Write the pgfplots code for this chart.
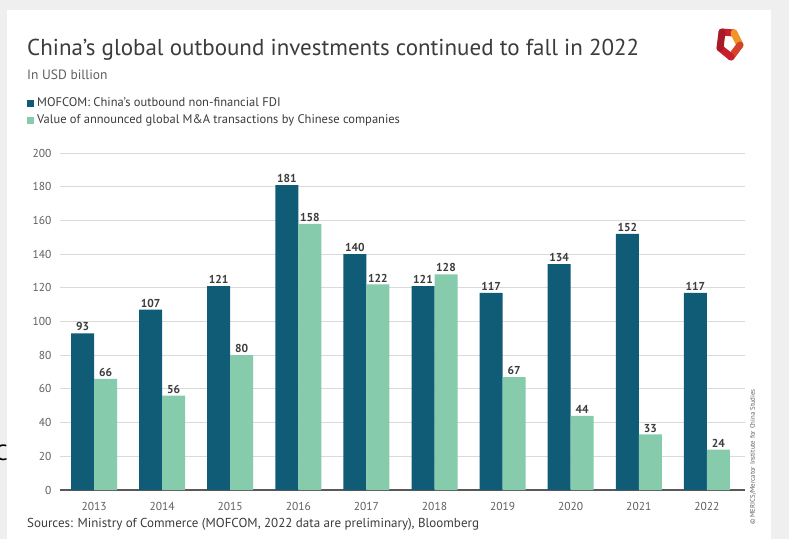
\documentclass[border=0pt]{standalone}
\usepackage{fontspec}
\setmainfont{PT Sans}
\usepackage{pgfplots}
\pgfplotsset{compat=1.18}
\definecolor{darkbar}{RGB}{16,92,118}
\definecolor{lightbar}{RGB}{134,203,172}
\definecolor{txt}{RGB}{60,60,60}
\definecolor{ticktxt}{RGB}{95,95,95}
\definecolor{bg}{RGB}{239,239,239}
\definecolor{gridc}{RGB}{218,218,218}
\definecolor{logored}{RGB}{200,30,45}
\definecolor{logoorange}{RGB}{240,150,40}

\pgfplotstableread{
x fdi ma
0 93 66
1 107 56
2 121 80
3 181 158
4 140 122
5 121 128
6 117 67
7 134 44
8 152 33
9 117 24
}\datatable

\begin{document}
\begin{tikzpicture}[x=1pt,y=1pt]
\useasboundingbox (0,0) rectangle (789,539);
\fill[bg] (0,0) rectangle (789,539);
\fill[white] (7,0) rectangle (771,529);
\node[anchor=base west, inner sep=0, text=txt, font=\fontsize{23}{27}\selectfont] at (27,483) {China's global outbound investments continued to fall in 2022};
\node[anchor=base west, inner sep=0, text=ticktxt, font=\fontsize{13.5}{15}\selectfont] at (27,459) {In USD billion};
\fill[darkbar] (27,432) rectangle (34,439);
\node[anchor=base west, inner sep=0, text=txt, font=\fontsize{12.5}{14}\selectfont] at (37,432) {MOFCOM: China's outbound non-financial FDI};
\fill[lightbar] (27,415) rectangle (34,422);
\node[anchor=base west, inner sep=0, text=txt, font=\fontsize{12.5}{14}\selectfont] at (37,415) {Value of announced global M\&A transactions by Chinese companies};
\node[anchor=base west, inner sep=0, text=txt, font=\fontsize{13}{14}\selectfont] at (27,12) {Sources: Ministry of Commerce (MOFCOM, 2022 data are preliminary), Bloomberg};
\node[rotate=90, inner sep=0, text=ticktxt, font=\fontsize{6.8}{7}\selectfont] at (753,82) {\copyright{} MERICS/Mercator Institute for China Studies};
\node[anchor=west, inner sep=0, font=\fontsize{22}{24}\selectfont] at (-5,86) {C};
% logo
\draw[line width=7pt, logored, line cap=round] (722,507) -- (734,506);
\draw[line width=7pt, logoorange, line cap=round] (734,506) -- (740,494);
\draw[line width=7pt, logored!70!logoorange, line cap=round] (740,494) -- (731,482);
\draw[line width=7pt, logored, line cap=round] (731,482) -- (720,491);
\draw[line width=7pt, logored!85!black, line cap=round] (720,491) -- (722,507);
\begin{axis}[
  at={(60pt,49pt)}, anchor=south west,
  scale only axis, width=685pt, height=337pt,
  ybar=0pt, bar width=23pt,
  xmin=-0.5, xmax=9.56, ymin=0, ymax=200,
  xtick={0,...,9},
  xticklabels={2013,2014,2015,2016,2017,2018,2019,2020,2021,2022},
  ytick={20,40,...,200},
  extra y ticks={0},
  extra y tick style={ymajorgrids=true, grid style={draw=black!65, line width=1.4pt}},
  axis line style={draw=none},
  major tick length=0pt,
  ymajorgrids, grid style={draw=gridc, line width=1pt},
  tick label style={text=ticktxt, font=\fontsize{11.5}{12}\selectfont},
  /pgf/number format/assume math mode=true,
  xticklabel style={yshift=-9pt},
  yticklabel style={xshift=-5pt},
  nodes near coords,
  nodes near coords style={text=txt, font=\bfseries\fontsize{11.5}{12}\selectfont, inner sep=2pt},
  clip=false,
]
\addplot[fill=darkbar, draw=none] table[x=x, y=fdi] {\datatable};
\addplot[fill=lightbar, draw=none] table[x=x, y=ma] {\datatable};
\end{axis}
\end{tikzpicture}
\end{document}
